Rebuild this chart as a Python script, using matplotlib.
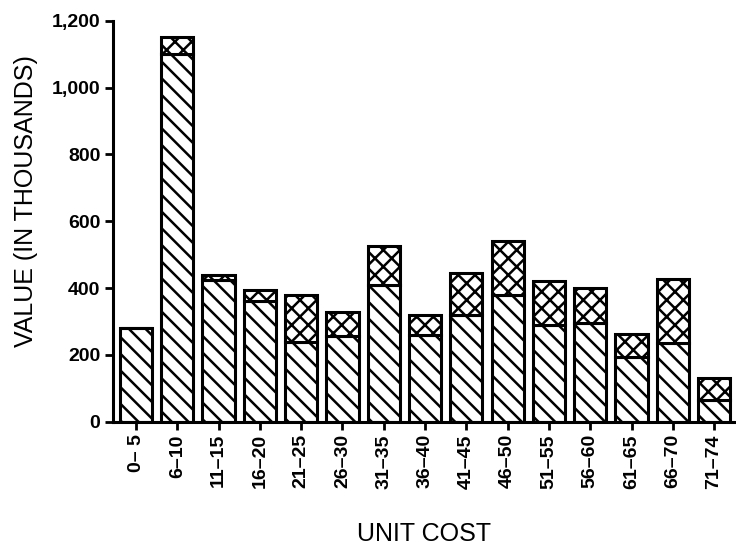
import numpy as np
import matplotlib
matplotlib.use("Agg")
import matplotlib.pyplot as plt

# values (thousands)
categories = ["0– 5", "6–10", "11–15", "16–20", "21–25", "26–30", "31–35", "36–40",
              "41–45", "46–50", "51–55", "56–60", "61–65", "66–70", "71–74"]
lower_part = [280, 1100, 425, 360, 240, 255, 410, 260, 320, 380, 290, 295, 195, 235, 65]
upper_part = [0, 50, 15, 35, 138, 73, 115, 60, 125, 160, 130, 105, 67, 193, 65]
y_ticks = [0, 200, 400, 600, 800, 1000, 1200]
y_tick_labels = ["0", "200", "400", "600", "800", "1,000", "1,200"]

plt.rcParams["font.family"] = ["Liberation Sans", "DejaVu Sans"]
plt.rcParams["hatch.linewidth"] = 1.8
plt.rcParams["hatch.color"] = "black"

fig = plt.figure(figsize=(7.36, 5.46), dpi=100)
ax = fig.add_axes([113 / 736, 1 - 421.7 / 546, 623 / 736, 401 / 546])

x = np.arange(len(categories))
ax.bar(x, lower_part, width=0.78, color="white", edgecolor="black",
       linewidth=2.2, hatch="\\\\")
ax.bar(x, upper_part, width=0.78, bottom=lower_part, color="white",
       edgecolor="black", linewidth=2.2, hatch="xx")

ax.set_xlim(-0.557, 14.53)
ax.set_ylim(0, 1200)
ax.set_yticks(y_ticks)
ax.set_yticklabels(y_tick_labels, fontsize=14, fontweight="bold")
ax.set_xticks(x)
ax.set_xticklabels(categories, rotation=90, fontsize=14, fontweight="bold")
ax.tick_params(axis="both", direction="out", width=2, length=6, pad=3)

for side in ["top", "right"]:
    ax.spines[side].set_visible(False)
ax.spines["left"].set_linewidth(2.2)
ax.spines["bottom"].set_linewidth(2.2)

ax.set_ylabel("VALUE (IN THOUSANDS)", fontsize=18)
ax.yaxis.set_label_coords(-0.12, 0.549)
ax.set_xlabel("UNIT COST", fontsize=18)
ax.xaxis.set_label_coords(0.5, -0.25)

fig.savefig("out.png", dpi=100)
